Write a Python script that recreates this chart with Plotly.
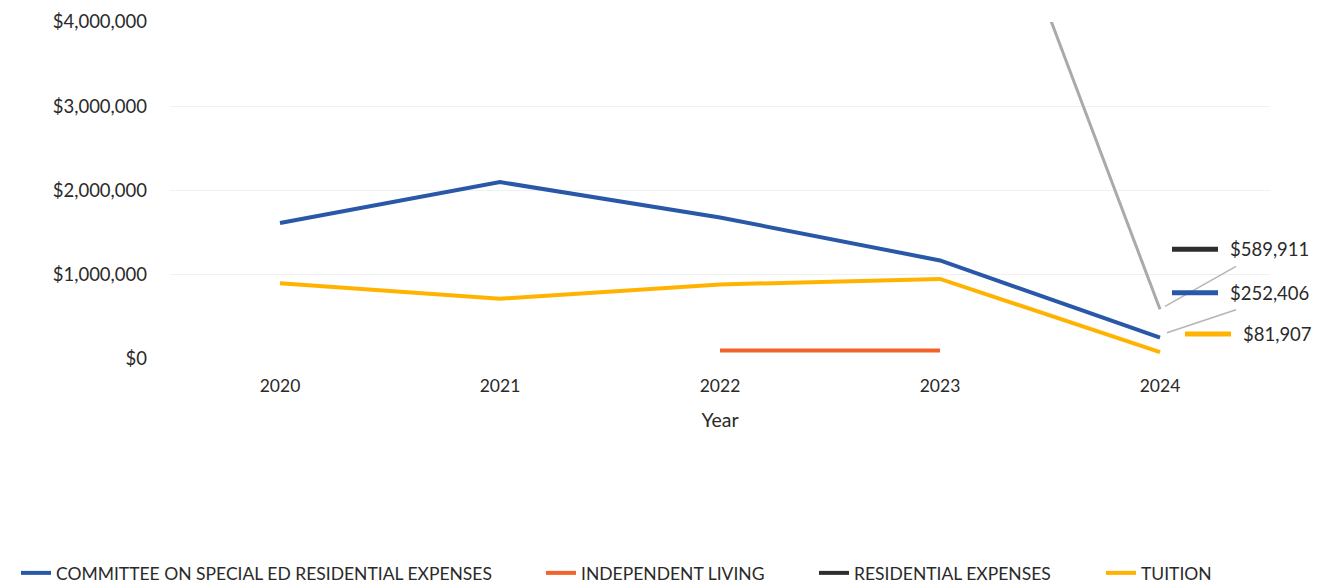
import plotly.graph_objects as go

years = [2020, 2021, 2022, 2023, 2024]
cse_residential = [1615000, 2100000, 1680000, 1170000, 252406]
independent_living = [None, None, 100000, 100000, None]
residential = [None, None, None, 7500000, 589911]
tuition = [900000, 715000, 885000, 950000, 81907]

names = ["COMMITTEE ON SPECIAL ED RESIDENTIAL EXPENSES", "INDEPENDENT LIVING",
         "RESIDENTIAL EXPENSES", "TUITION"]
colors = ["#2958A8", "#F4622B", "#AAAAAA", "#FFB300"]
legend_colors = ["#2958A8", "#F4622B", "#2E2E2E", "#FFB300"]
y_ticks = [0, 1000000, 2000000, 3000000, 4000000]

FONT = "Lato"
TXT = "#2A2A2A"
# page body has an 8px margin, so the figure is sized/shifted to fit the window
W, H = 1317, 578
legend_x_px = [8, 533, 806, 1093]

fig = go.Figure()
series = [cse_residential, independent_living, residential, tuition]
for i, (name, vals, col, lcol) in enumerate(zip(names, series, colors, legend_colors)):
    lg = "legend" if i == 0 else "legend%d" % (i + 1)
    same = col == lcol
    fig.add_trace(go.Scatter(x=years, y=vals, mode="lines", name=name, legend=lg,
                             line=dict(color=col, width=4 if name != "RESIDENTIAL EXPENSES" else 3),
                             showlegend=same))
    if not same:
        fig.add_trace(go.Scatter(x=[None], y=[None], mode="lines", name=name, legend=lg,
                                 line=dict(color=lcol, width=4)))

# data labels at 2024 with keys and leader lines
last_x = years[-1]
labels = [
    (residential[-1], legend_colors[2], 12, 60, (5, 3, 76, 43)),
    (cse_residential[-1], legend_colors[0], 12, 45, (7, 5, 76, 28)),
    (tuition[-1], legend_colors[3], 25, 18, None),
]
for val, col, kx, ky, leader in labels:
    fig.add_shape(type="line", xref="x", yref="y", xsizemode="pixel", ysizemode="pixel",
                  xanchor=last_x, yanchor=val, x0=kx, x1=kx + 46, y0=ky, y1=ky,
                  line=dict(color=col, width=5))
    if leader:
        fig.add_shape(type="line", xref="x", yref="y", xsizemode="pixel", ysizemode="pixel",
                      xanchor=last_x, yanchor=val, x0=leader[0], y0=leader[1],
                      x1=leader[2], y1=leader[3], line=dict(color="#B5B5B5", width=1.5))
    fig.add_annotation(x=last_x, y=val, xref="x", yref="y", text="${:,.0f}".format(val),
                       showarrow=False, xanchor="left", yanchor="middle",
                       xshift=kx + 56, yshift=ky, font=dict(family=FONT, size=18.5, color=TXT))

legend_common = dict(orientation="h", xref="container", yref="container", xanchor="left",
                     y=13 / H, yanchor="middle", bgcolor="rgba(0,0,0,0)",
                     font=dict(family=FONT, size=17.5, color=TXT))
layout_legends = {}
for i, px in enumerate(legend_x_px):
    key = "legend" if i == 0 else "legend%d" % (i + 1)
    layout_legends[key] = dict(legend_common, x=px / W)

fig.update_layout(
    width=W, height=H,
    margin=dict(l=162, r=55, t=14, b=227),
    paper_bgcolor="white", plot_bgcolor="white",
    font=dict(family=FONT, size=16, color=TXT),
    **layout_legends,
)
fig.update_xaxes(range=[2019.5, 2024.5], tickvals=years, ticktext=[str(y) for y in years],
                 showgrid=False, zeroline=False, showline=False, ticks="", automargin=False,
                 ticklabelstandoff=14, tickfont=dict(size=17.5, color=TXT),
                 title=dict(text="Year", font=dict(size=19.5, color=TXT), standoff=18))
fig.update_yaxes(range=[0, 4000000], tickvals=y_ticks, tickformat="$,.0f",
                 showgrid=True, gridcolor="#F0F0F0", gridwidth=1, zeroline=False,
                 showline=False, ticks="", ticklabelstandoff=22, automargin=False,
                 tickfont=dict(size=18.5, color=TXT))

fig.write_html("out.html")
